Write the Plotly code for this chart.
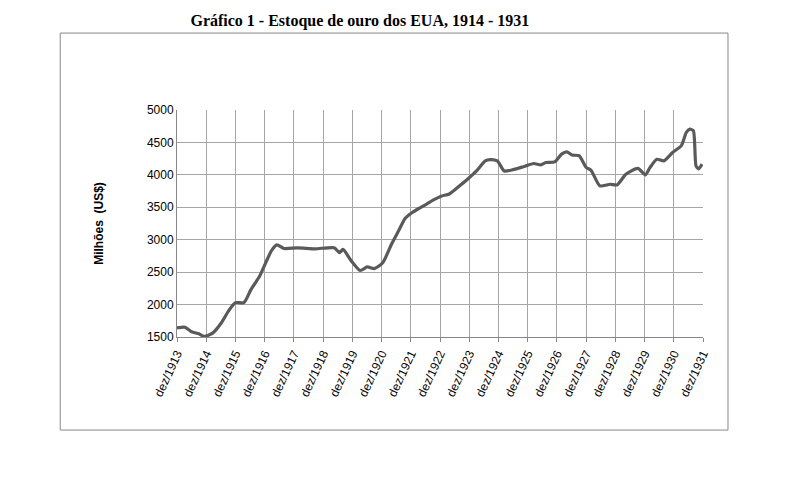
import plotly.graph_objects as go

# t = years since dez/1913
t_years = [0,0.27,0.5,0.75,0.93,1.22,1.52,1.76,2.0,2.29,2.53,2.83,3.06,3.24,3.42,3.66,4.13,4.73,5.38,5.56,5.68,5.97,6.27,6.51,6.75,7.04,7.34,7.58,7.81,8.05,8.29,8.53,8.76,9.06,9.30,9.60,9.95,10.25,10.55,10.72,10.96,11.2,11.5,11.85,12.21,12.45,12.62,12.92,13.16,13.34,13.52,13.76,14.0,14.17,14.47,14.82,15.06,15.36,15.77,16.03,16.19,16.42,16.66,16.96,17.26,17.43,17.55,17.67,17.76,17.85,17.97]
gold = [1640,1650,1580,1550,1510,1560,1720,1900,2030,2030,2230,2440,2670,2835,2920,2865,2875,2860,2875,2800,2850,2670,2525,2580,2555,2645,2930,3135,3330,3420,3485,3545,3610,3675,3700,3805,3935,4060,4215,4235,4215,4060,4080,4125,4175,4155,4190,4200,4320,4355,4305,4295,4115,4070,3830,3855,3845,4010,4100,4000,4115,4240,4215,4345,4450,4655,4705,4680,4140,4090,4165]
tick_labels = ["dez/%d" % y for y in range(1913, 1932)]
y_ticks = [1500,2000,2500,3000,3500,4000,4500,5000]

months = [t*12 for t in t_years]

fig = go.Figure(go.Scatter(x=months, y=gold, mode="lines", line=dict(color="#5a5a5a", width=3.2, shape="spline", smoothing=0.6)))

fig.update_layout(
    width=807, height=487, margin=dict(l=169, r=112, t=102, b=158),
    paper_bgcolor="white", plot_bgcolor="white", showlegend=False,
    title=dict(text="<b>Gráfico 1 - Estoque de ouro dos EUA, 1914 - 1931</b>", x=0.436, xanchor="center", y=0.975, yanchor="middle",
               font=dict(family="Liberation Serif", size=16, color="black")),
    xaxis=dict(range=[0, 216], tickvals=[12*i for i in range(19)], ticktext=tick_labels, tickangle=-65,
               showgrid=True, gridcolor="#a6a6a6", gridwidth=1.3, showline=True, linecolor="#888", zeroline=False,
               ticks="outside", ticklen=4, tickcolor="#888", tickfont=dict(family="Liberation Sans", size=12, color="black")),
    yaxis=dict(range=[1500, 5000], tickvals=y_ticks, showgrid=True, gridcolor="#a6a6a6", gridwidth=1.3,
               showline=True, linecolor="#888", zeroline=False, ticks="", tickfont=dict(family="Liberation Sans", size=12, color="black"),
               title=dict(text="<b>Milhões  (US$)</b>", standoff=40, font=dict(family="Liberation Sans", size=12, color="black"))),
    shapes=[dict(type="rect", xref="paper", yref="paper", x0=-0.222, x1=1.0475, y0=-0.41, y1=1.339,
                 line=dict(color="#888", width=1))],
)
fig.write_html("out.html")
